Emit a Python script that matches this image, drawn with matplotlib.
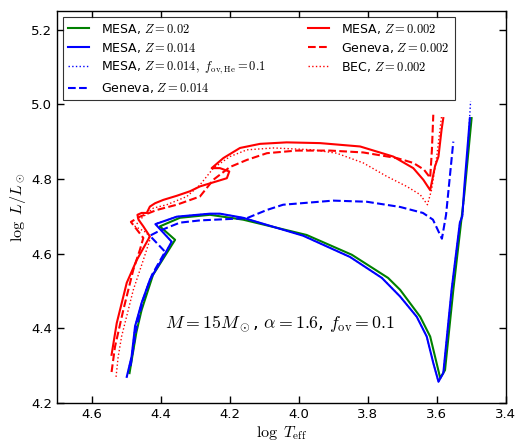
import matplotlib
matplotlib.use('Agg')
import matplotlib.pyplot as plt
import numpy as np

# MESA Z=0.02
teff_mesa_02 = [4.490, 4.470, 4.455, 4.422, 4.358, 4.402, 4.344, 4.257, 4.161, 3.977,
                3.846, 3.741, 3.706, 3.648, 3.619, 3.590, 3.576, 3.552, 3.520, 3.499]
lum_mesa_02 = [4.280, 4.390, 4.449, 4.543, 4.637, 4.673, 4.696, 4.704, 4.691, 4.650,
               4.597, 4.535, 4.503, 4.431, 4.378, 4.267, 4.288, 4.503, 4.760, 4.963]

# MESA Z=0.014
teff_mesa_014 = [4.498, 4.484, 4.474, 4.455, 4.431, 4.397, 4.368, 4.415, 4.353, 4.257,
                 4.228, 4.161, 3.987, 3.851, 3.759, 3.706, 3.658, 3.629, 3.610, 3.595,
                 3.581, 3.557, 3.533, 3.526, 3.520, 3.513, 3.504]
lum_mesa_014 = [4.270, 4.324, 4.405, 4.468, 4.530, 4.583, 4.632, 4.679, 4.699, 4.707,
                4.707, 4.696, 4.648, 4.591, 4.535, 4.485, 4.431, 4.378, 4.307, 4.257,
                4.280, 4.503, 4.683, 4.700, 4.780, 4.860, 4.963]

# MESA Z=0.014, f_ov,He=0.1
teff_mesa_014_he = [4.498, 4.484, 4.474, 4.455, 4.431, 4.397, 4.368, 4.414, 4.353, 4.257,
                    4.228, 4.161, 3.987, 3.851, 3.759, 3.706, 3.658, 3.629, 3.610, 3.595,
                    3.581, 3.557, 3.533, 3.525, 3.518, 3.510, 3.502]
lum_mesa_014_he = [4.270, 4.324, 4.405, 4.468, 4.530, 4.583, 4.632, 4.680, 4.699, 4.707,
                   4.707, 4.696, 4.648, 4.591, 4.535, 4.485, 4.431, 4.378, 4.307, 4.257,
                   4.280, 4.503, 4.683, 4.705, 4.790, 4.880, 5.008]

# Geneva Z=0.014
teff_gen_014 = [4.487, 4.471, 4.451, 4.425, 4.387, 4.431, 4.410, 4.382, 4.344, 4.286,
                4.150, 4.092, 4.045, 3.900, 3.803, 3.706, 3.640, 3.611, 3.585, 3.573, 3.552]
lum_gen_014 = [4.299, 4.396, 4.476, 4.543, 4.605, 4.648, 4.658, 4.669, 4.683, 4.689,
               4.695, 4.717, 4.731, 4.742, 4.739, 4.725, 4.709, 4.691, 4.640, 4.704, 4.900]

# MESA Z=0.002
teff_mesa_002 = [4.542, 4.527, 4.498, 4.469, 4.431, 4.450, 4.464, 4.467, 4.455, 4.440,
                 4.431, 4.416, 4.392, 4.353, 4.315, 4.286, 4.208, 4.201, 4.228, 4.252,
                 4.218, 4.170, 4.112, 4.035, 3.938, 3.822, 3.726, 3.668, 3.639, 3.619,
                 3.605, 3.595, 3.586, 3.581]
lum_mesa_002 = [4.329, 4.414, 4.522, 4.583, 4.646, 4.673, 4.691, 4.704, 4.709, 4.709,
                4.726, 4.735, 4.744, 4.755, 4.767, 4.780, 4.802, 4.820, 4.829, 4.829,
                4.856, 4.883, 4.894, 4.898, 4.896, 4.887, 4.860, 4.829, 4.798, 4.770,
                4.834, 4.860, 4.932, 4.963]

# Geneva Z=0.002
teff_gen_002 = [4.542, 4.532, 4.508, 4.479, 4.460, 4.450, 4.486, 4.460, 4.411, 4.353,
                4.286, 4.247, 4.199, 4.150, 4.092, 4.006, 3.909, 3.813, 3.716, 3.668,
                3.637, 3.619, 3.614, 3.610]
lum_gen_002 = [4.283, 4.351, 4.449, 4.557, 4.610, 4.642, 4.685, 4.699, 4.717, 4.731,
               4.753, 4.798, 4.832, 4.851, 4.869, 4.876, 4.876, 4.871, 4.856, 4.843,
               4.825, 4.803, 4.878, 4.972]

# BEC Z=0.002
teff_bec_002 = [4.529, 4.523, 4.513, 4.479, 4.450, 4.431, 4.440, 4.474, 4.460, 4.421,
                4.382, 4.324, 4.286, 4.247, 4.199, 4.150, 4.073, 3.957, 3.890, 3.813,
                3.745, 3.687, 3.648, 3.627, 3.615, 3.600, 3.586]
lum_bec_002 = [4.270, 4.323, 4.378, 4.503, 4.583, 4.637, 4.656, 4.673, 4.691, 4.722,
               4.731, 4.753, 4.784, 4.829, 4.860, 4.878, 4.883, 4.878, 4.869, 4.843,
               4.807, 4.780, 4.758, 4.731, 4.771, 4.860, 4.968]

plt.rcParams['mathtext.fontset'] = 'cm'
plt.rcParams['font.family'] = 'DejaVu Sans'

fig = plt.figure(figsize=(5.17, 4.41), dpi=100)
ax = fig.add_axes([0.1103, 0.0862, 0.868, 0.889])

ax.plot(teff_mesa_02, lum_mesa_02, color='g', lw=1.5, label=r'MESA, $Z=0.02$')
ax.plot(teff_mesa_014, lum_mesa_014, color='b', lw=1.5, label=r'MESA, $Z=0.014$')
ax.plot(teff_mesa_014_he, lum_mesa_014_he, color='b', lw=1, ls=':',
        label=r'MESA, $Z=0.014,\ f_{\rm ov,He}=0.1$')
ax.plot(teff_gen_014, lum_gen_014, color='b', lw=1.5, ls='--', label=r'Geneva, $Z=0.014$')
ax.plot(teff_mesa_002, lum_mesa_002, color='r', lw=1.5, label=r'MESA, $Z=0.002$')
ax.plot(teff_gen_002, lum_gen_002, color='r', lw=1.5, ls='--', label=r'Geneva, $Z=0.002$')
ax.plot(teff_bec_002, lum_bec_002, color='r', lw=1, ls=':', label=r'BEC, $Z=0.002$')

ax.set_xlim(4.7, 3.4)
ax.set_ylim(4.2, 5.25)
ax.set_xticks([4.6, 4.4, 4.2, 4.0, 3.8, 3.6, 3.4])
ax.set_yticks([4.2, 4.4, 4.6, 4.8, 5.0, 5.2])
ax.tick_params(direction='in', top=True, right=True, labelsize=9.5, length=5, width=1)
for s in ax.spines.values():
    s.set_linewidth(1)

ax.set_xlabel(r'$\log\ T_{\rm eff}$', fontsize=11.5, labelpad=2)
ax.set_ylabel(r'$\log\ L/L_\odot$', fontsize=11.5, labelpad=2)

ax.text(4.054, 4.412, r'$M=15M_\odot$, $\alpha=1.6$, $f_{\rm ov}=0.1$',
        ha='center', va='center', fontsize=12.8)

leg = ax.legend(loc='upper left', ncol=2, fontsize=9, fancybox=False, frameon=True,
                borderaxespad=0.45, handlelength=1.7, handletextpad=1.0,
                columnspacing=3.3, labelspacing=0.4, borderpad=0.4)
leg.get_frame().set_edgecolor('k')
leg.get_frame().set_linewidth(0.8)

fig.savefig('out.png', dpi=100)
